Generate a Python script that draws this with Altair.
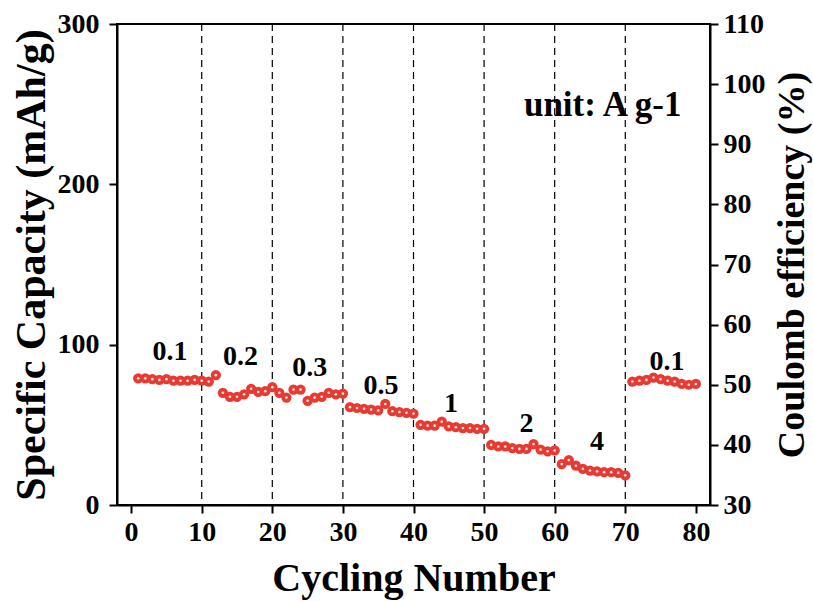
import altair as alt
import pandas as pd

FONT = "Liberation Serif"

cycles = list(range(1, 81))
capacity = [
    79, 79, 78.5, 78, 78.5, 77.5, 77.5, 77.5, 78, 77.5,
    77, 81, 70, 67.5, 67.5, 69, 72.5, 70.5, 71, 73.5,
    70, 67, 72, 72, 65, 67, 67.5, 70, 69, 69.5,
    61, 60.5, 60, 59.5, 59, 63, 58.5, 58, 57.5, 57,
    50, 49.5, 49.5, 52, 49, 48.5, 48, 48, 47.5, 47.5,
    37.5, 36.5, 36.5, 35.5, 35, 35, 38, 34.5, 33.5, 34,
    25.5, 28, 24.5, 22.5, 21.5, 21, 20.5, 20.5, 20, 18.5,
    77, 77.5, 78, 79.5, 78.5, 77.5, 77, 75.5, 75, 75.5,
]

rate_labels = ["0.1", "0.2", "0.3", "0.5", "1", "2", "4", "0.1"]
rate_label_x = [5.5, 15.5, 25.3, 35.4, 45.3, 56.0, 66.0, 75.9]
rate_label_y = [95.4, 92.0, 85.2, 74.2, 63.3, 50.8, 39.0, 89.2]

divider_x = [10, 20, 30, 40, 50, 60, 70]

unit_text = ["unit: A g-1"]
unit_x = [66.8]
unit_y = [249.5]

x_ticks = [0, 10, 20, 30, 40, 50, 60, 70, 80]
left_ticks = [0, 100, 200, 300]
ce_ticks = [30, 40, 50, 60, 70, 80, 90, 100, 110]

df = pd.DataFrame({"cycle": cycles, "cap": capacity})
lab_df = pd.DataFrame({"x": rate_label_x, "y": rate_label_y, "t": rate_labels})
div_df = pd.DataFrame({"x": divider_x})
unit_df = pd.DataFrame({"x": unit_x, "y": unit_y, "t": unit_text})
ce_df = pd.DataFrame({"ce": ce_ticks})

xscale = alt.Scale(domain=[-2, 82], nice=False, zero=False)
yscale = alt.Scale(domain=[0, 300], nice=False)

common = dict(grid=False, labelFont=FONT, labelFontSize=28, labelFontWeight="bold",
              labelColor="black", titleFont=FONT, titleFontWeight="bold",
              titleColor="black", domainColor="black", domainWidth=2,
              tickColor="black", tickWidth=2, tickSize=8)

xaxis = alt.Axis(values=x_ticks, title="Cycling Number", labelPadding=5,
                 titleFontSize=40, titlePadding=12, **common)
yaxis = alt.Axis(values=left_ticks, title="Specific Capacity (mAh/g)",
                 labelPadding=10, titleFontSize=42, titlePadding=4, **common)
raxis = alt.Axis(values=ce_ticks, title="Coulomb efficiency (%)", orient="right",
                 labelPadding=5, titleFontSize=38, titlePadding=8,
                 titleAngle=270, titleBaseline="top", **common)

dividers = alt.Chart(div_df).mark_rule(
    color="black", strokeWidth=1.2, strokeDash=[7, 5]
).encode(x=alt.X("x:Q", scale=xscale, axis=xaxis))

points = alt.Chart(df).mark_circle(
    size=105, color="#e63b33", opacity=1
).encode(
    x=alt.X("cycle:Q", scale=xscale, axis=xaxis),
    y=alt.Y("cap:Q", scale=yscale, axis=yaxis),
)
highlights = alt.Chart(df).mark_circle(
    size=7, color="#ffe0e0", opacity=1
).encode(
    x=alt.X("cycle:Q", scale=xscale, axis=xaxis),
    y=alt.Y("cap:Q", scale=yscale, axis=yaxis),
)

labels = alt.Chart(lab_df).mark_text(
    font=FONT, fontSize=28, fontWeight="bold", color="black",
    align="center", baseline="middle"
).encode(
    x=alt.X("x:Q", scale=xscale, axis=xaxis),
    y=alt.Y("y:Q", scale=yscale, axis=yaxis),
    text="t:N",
)
unit = alt.Chart(unit_df).mark_text(
    font=FONT, fontSize=35, fontWeight="bold", color="black",
    align="center", baseline="middle"
).encode(
    x=alt.X("x:Q", scale=xscale, axis=xaxis),
    y=alt.Y("y:Q", scale=yscale, axis=yaxis),
    text="t:N",
)

left = alt.layer(dividers, points, highlights, labels, unit)

right = alt.Chart(ce_df).mark_point(opacity=0).encode(
    y=alt.Y("ce:Q", scale=alt.Scale(domain=[30, 110], nice=False, zero=False),
            axis=raxis)
)

chart = alt.layer(left, right).resolve_scale(y="independent").properties(
    width=593, height=481,
    padding={"left": 117, "top": 24, "right": 103, "bottom": 96},
    autosize=alt.AutoSizeParams(type="none"),
    background="white",
).configure_view(stroke="black", strokeWidth=2)

chart.save("out.html", embed_options={"renderer": "svg", "actions": False})
